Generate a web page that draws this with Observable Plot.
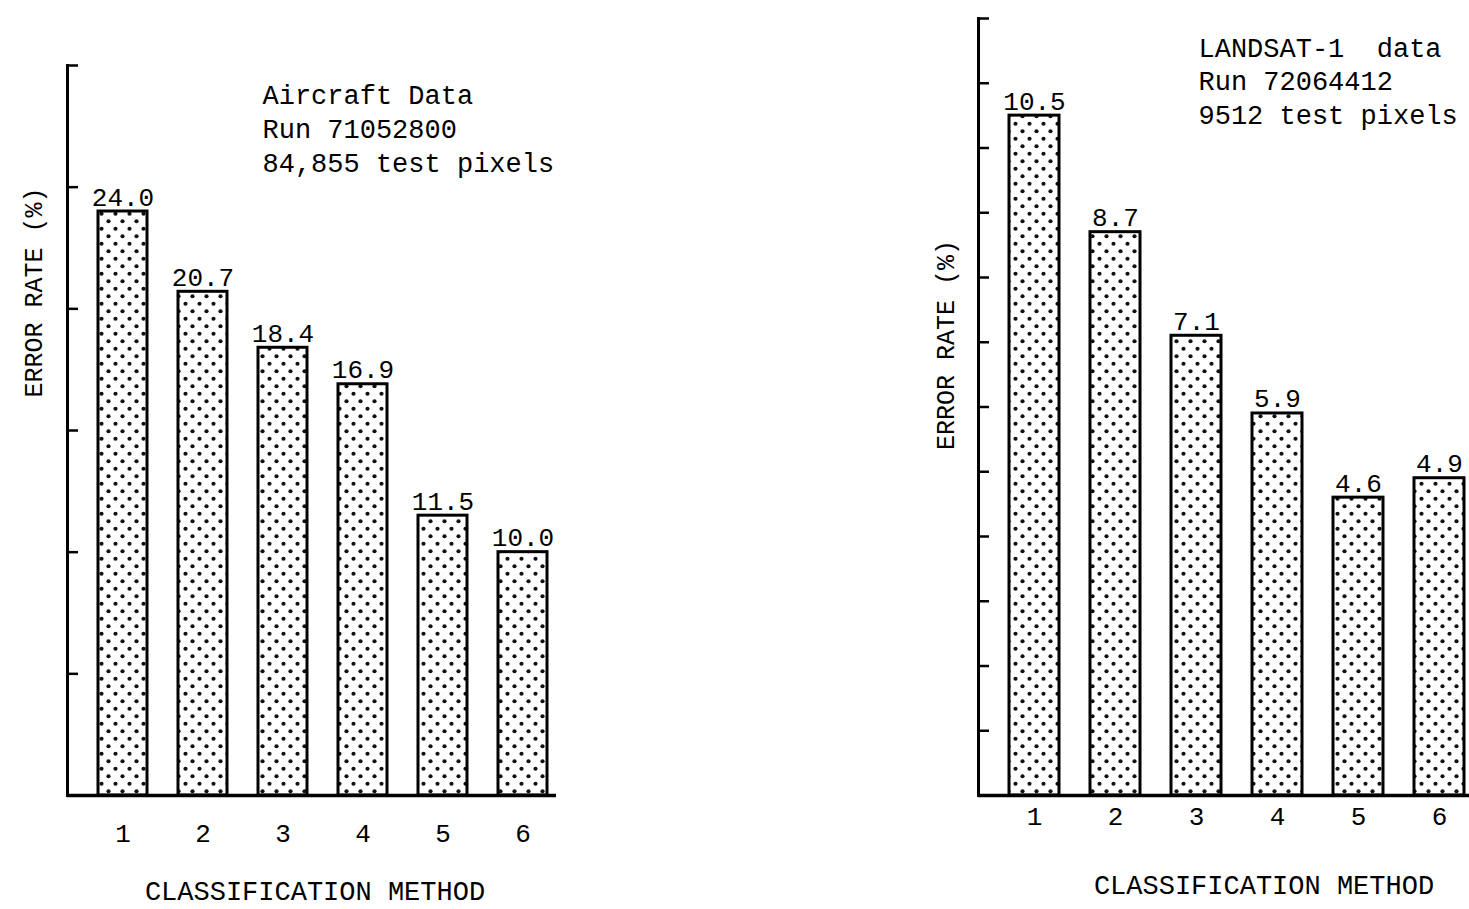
<!DOCTYPE html>
<html>
<head>
<meta charset="utf-8">
<script src="https://cdn.jsdelivr.net/npm/d3@7"></script>
<script src="https://cdn.jsdelivr.net/npm/@observablehq/plot@0.6"></script>
<style>
  html, body { margin: 0; padding: 0; background: white; }
  #wrap { position: relative; width: 1469px; height: 909px; overflow: hidden; background: white; }
  #left, #right { position: absolute; top: 0; }
  #left { left: 0; }
  #right { left: 900px; }
</style>
</head>
<body>
<div id="wrap"><div id="left"></div><div id="right"></div></div>
<script>
// ---- data ----
const methods = [1, 2, 3, 4, 5, 6];
const aircraftRates = [24.0, 20.7, 18.4, 16.9, 11.5, 10.0];
const landsatRates = [10.5, 8.7, 7.1, 5.9, 4.6, 4.9];
const aircraftTicks = [5, 10, 15, 20, 25, 30];
const landsatTicks = [1, 2, 3, 4, 5, 6, 7, 8, 9, 10, 11, 12];
const aircraftNote = ["Aircraft Data", "Run 71052800", "84,855 test pixels"];
const landsatNote = ["LANDSAT-1  data", "Run 72064412", "9512 test pixels"];
const yLabel = "ERROR RATE (%)";
const xLabel = "CLASSIFICATION METHOD";

const aircraft = methods.map((m, i) => ({method: m, rate: aircraftRates[i]}));
const landsat = methods.map((m, i) => ({method: m, rate: landsatRates[i]}));
const fmt = d3.format(".1f");
const FONT = "'Liberation Mono', 'Courier New', monospace";

function dotsPattern(id) {
  return () => {
    const defs = d3.create("svg:defs");
    const p = defs.append("pattern").attr("id", id)
      .attr("patternUnits", "userSpaceOnUse").attr("width", 14).attr("height", 15);
    p.append("rect").attr("width", 14).attr("height", 15).attr("fill", "white");
    p.append("circle").attr("cx", 3.5).attr("cy", 3.75).attr("r", 2.1).attr("fill", "#111");
    p.append("circle").attr("cx", 10.5).attr("cy", 11.25).attr("r", 2.1).attr("fill", "#111");
    return defs.node();
  };
}

function panel({data, ticks, domainMax, width, marginLeft, marginRight, marginTop, xRange,
                tickPadding, note, noteDx, noteDy, noteLH, yDx, yDy, xDx, xDy, pid}) {
  return Plot.plot({
    width, height: 909,
    marginLeft, marginRight, marginTop, marginBottom: 114,
    style: {fontFamily: FONT, fontSize: "27px", color: "black", background: "white", overflow: "visible"},
    x: {type: "band", domain: methods, range: xRange, paddingInner: 0.383, paddingOuter: 0, label: null},
    y: {domain: [0, domainMax], label: null},
    marks: [
      dotsPattern(pid),
      Plot.barY(data, {x: "method", y: "rate", fill: `url(#${pid})`, stroke: "black", strokeWidth: 3}),
      Plot.text(data, {x: "method", y: "rate", text: d => fmt(d.rate), lineAnchor: "bottom", dy: -6, fontSize: 26}),
      Plot.axisX({tickSize: 0, tickPadding, label: null, fontSize: 26}),
      Plot.axisY({ticks, tickSize: -11, tickFormat: () => "", strokeWidth: 2.5, label: null}),
      Plot.frame({anchor: "left", strokeWidth: 3}),
      Plot.ruleY([0], {strokeWidth: 3.5}),
      Plot.text([note.join("\n")], {text: d => d, frameAnchor: "top-left", textAnchor: "start", lineAnchor: "top",
        dx: noteDx, dy: noteDy, lineHeight: noteLH}),
      Plot.text([yLabel], {text: d => d, frameAnchor: "left", rotate: -90, textAnchor: "middle", lineAnchor: "middle",
        dx: yDx, dy: yDy, fontSize: 25}),
      Plot.text([xLabel], {text: d => d, frameAnchor: "bottom", textAnchor: "middle", lineAnchor: "top",
        dx: xDx, dy: xDy})
    ]
  });
}

document.getElementById("left").append(panel({
  data: aircraft, ticks: aircraftTicks, domainMax: 30, width: 600,
  marginLeft: 67, marginRight: 44, marginTop: 65, xRange: [96, 550], tickPadding: 28,
  note: aircraftNote, noteDx: 195, noteDy: 14, noteLH: 1.26,
  yDx: -34, yDy: -138, xDx: 3, xDy: 85, pid: "dotsL"
}));

document.getElementById("right").append(panel({
  data: landsat, ticks: landsatTicks, domainMax: 12, width: 569,
  marginLeft: 78, marginRight: 0, marginTop: 18, xRange: [108, 565], tickPadding: 11,
  note: landsatNote, noteDx: 220, noteDy: 14.5, noteLH: 1.24,
  yDx: -33, yDy: -62, xDx: 40, xDy: 79, pid: "dotsR"
}));
</script>
</body>
</html>
